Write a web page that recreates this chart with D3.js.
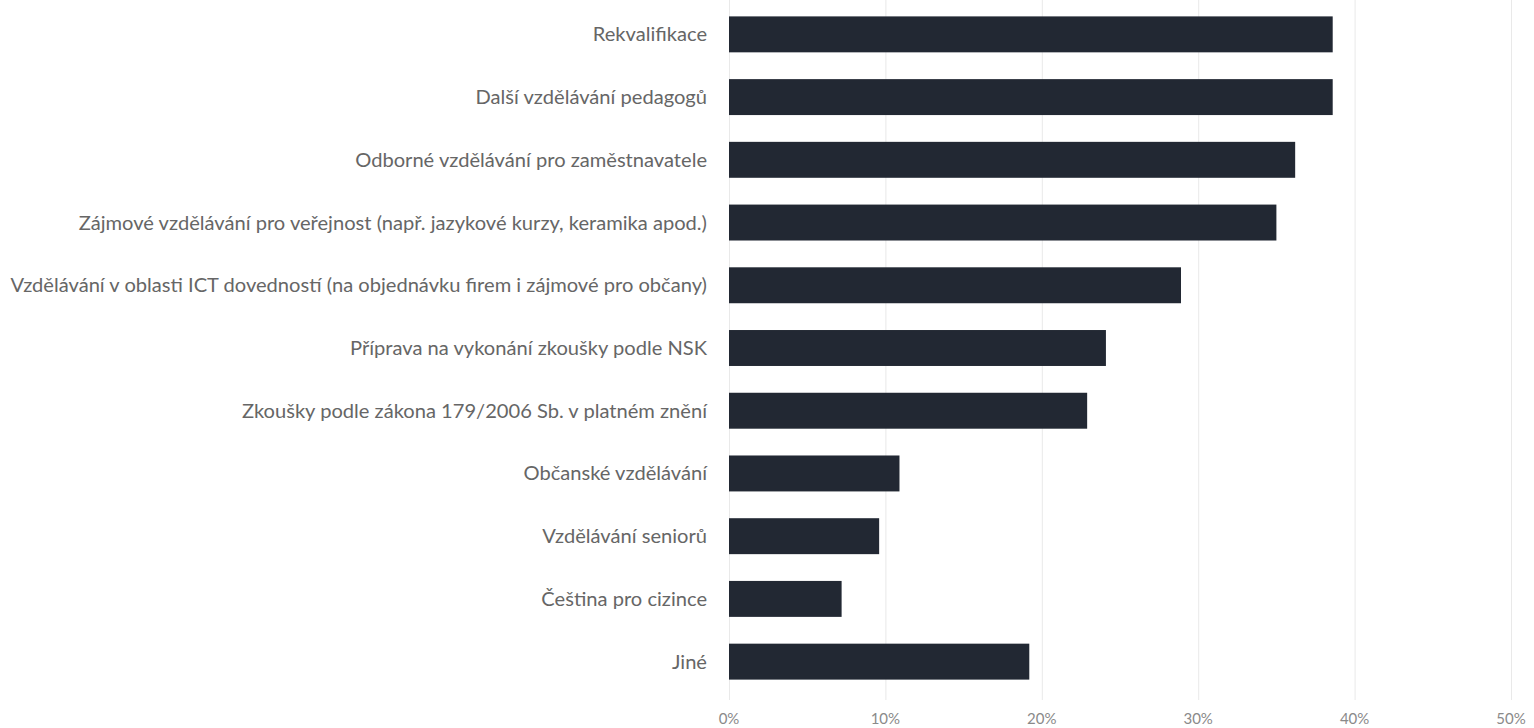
<!DOCTYPE html>
<html>
<head>
<meta charset="utf-8">
<script src="https://cdn.jsdelivr.net/npm/d3@7"></script>
<style>
  body { margin: 0; background: #fff; }
  svg { display: block; }
  .label { fill: #666; font-family: Lato, "Open Sans", sans-serif; }
  .tick-x { fill: #8a8a8a; font-family: Lato, "Open Sans", sans-serif; font-size: 15px; }
</style>
</head>
<body>
<svg id="chart" width="1534" height="728"></svg>
<script>
var categories = [
    'Rekvalifikace',
    'Další vzdělávání pedagogů',
    'Odborné vzdělávání pro zaměstnavatele',
    'Zájmové vzdělávání pro veřejnost (např. jazykové kurzy, keramika apod.)',
    'Vzdělávání v oblasti ICT dovedností (na objednávku firem i zájmové pro občany)',
    'Příprava na vykonání zkoušky podle NSK',
    'Zkoušky podle zákona 179/2006 Sb. v platném znění',
    'Občanské vzdělávání',
    'Vzdělávání seniorů',
    'Čeština pro cizince',
    'Jiné'
];
var values = [38.6, 38.6, 36.2, 35.0, 28.9, 24.1, 22.9, 10.9, 9.6, 7.2, 19.2];
var xTicks = [0, 10, 20, 30, 40, 50];

var svg = d3.select('#chart');
var left = 729, right = 1511;

var x = d3.scaleLinear().domain([0, 50]).range([left, right]);
var y = d3.scaleBand()
    .domain(categories)
    .range([3, 693])
    .paddingInner(0.427)
    .paddingOuter(0.2135);

// vertical gridlines
svg.append('g').selectAll('line')
    .data(xTicks)
    .enter()
    .append('line')
    .attr('x1', (d) => x(d) + 0.5)
    .attr('x2', (d) => x(d) + 0.5)
    .attr('y1', 0)
    .attr('y2', 700)
    .attr('stroke', '#e9e9e9')
    .attr('stroke-width', 1);

// x tick labels
svg.append('g').selectAll('text')
    .data(xTicks)
    .enter()
    .append('text')
    .attr('class', 'tick-x')
    .attr('x', (d) => x(d))
    .attr('y', 724)
    .attr('text-anchor', 'middle')
    .text((d) => d + '%');

// bars
svg.append('g').selectAll('rect')
    .data(values)
    .enter()
    .append('rect')
    .attr('x', x(0))
    .attr('y', (d, i) => y(categories[i]))
    .attr('width', (d) => x(d) - x(0))
    .attr('height', y.bandwidth())
    .attr('fill', '#222833');

// category labels
var labels = svg.append('g').selectAll('text')
    .data(categories)
    .enter()
    .append('text')
    .attr('class', 'label')
    .attr('x', 707)
    .attr('y', (d) => y(d) + y.bandwidth() / 2)
    .attr('dy', '0.35em')
    .attr('text-anchor', 'end')
    .style('font-size', '15px')
    .text((d) => d);

// fit the longest label to the width seen in the picture
var longest = d3.max(labels.nodes(), (n) => n.getComputedTextLength());
var size = 15 * 697 / longest;
labels.style('font-size', size + 'px');
</script>
</body>
</html>
